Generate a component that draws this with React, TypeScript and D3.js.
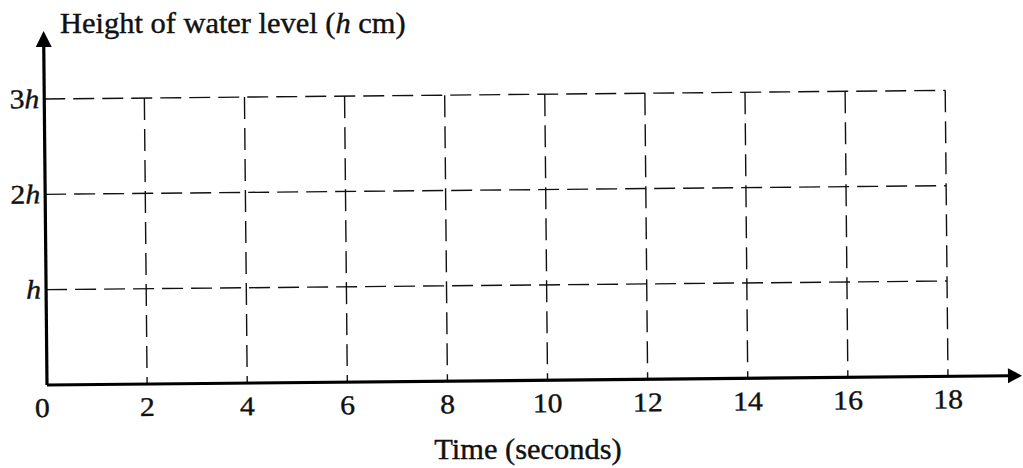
import React from "react";
import * as d3 from "d3";

// data
const xTicks = [2, 4, 6, 8, 10, 12, 14, 16, 18];
const xTickLabels = ["2", "4", "6", "8", "10", "12", "14", "16", "18"];
const yTicks = [1, 2, 3];
const yTickLabels = ["", "2", "3"]; // prefix before the italic h
const xMax = 18;
const yMax = 3;

const W = 1023;
const H = 468;
const origin = { x: 47, y: 385 };
const tilt = -0.55; // the scan is slightly rotated

const FONT = "'Liberation Serif', 'Times New Roman', serif";

export default function App() {
  const x = d3.scaleLinear().domain([0, xMax]).range([origin.x, 948]);
  const y = d3.scaleLinear().domain([0, yMax]).range([origin.y, 99]);

  const gridStyle = { stroke: "#111", strokeWidth: 1.4, fill: "none" };
  const textStyle = { fontFamily: FONT, fill: "#111", stroke: "#111", strokeWidth: 0.4 };

  return (
    <svg
      width={W}
      height={H}
      viewBox={`0 0 ${W} ${H}`}
      style={{ position: "absolute", left: 0, top: 0, background: "#fff" }}
    >
      <rect width={W} height={H} fill="#fff" />

      {/* axis titles */}
      <text transform="translate(60,33) scale(1.05,1)" fontSize={29} {...textStyle}>
        Height of water level (<tspan fontStyle="italic">h</tspan> cm)
      </text>
      <text
        transform="translate(528,459) scale(1.05,1)"
        fontSize={29}
        textAnchor="middle"
        {...textStyle}
      >
        Time (seconds)
      </text>

      <g transform={`rotate(${tilt},${origin.x},${origin.y})`}>
        {/* horizontal dashed grid */}
        {yTicks.map((t) => (
          <line
            key={`h${t}`}
            x1={x(0)}
            x2={x(xMax)}
            y1={y(t)}
            y2={y(t)}
            strokeDasharray="21 8"
            {...gridStyle}
          />
        ))}
        {/* vertical dashed grid */}
        {xTicks.map((t) => (
          <line
            key={`v${t}`}
            x1={x(t)}
            x2={x(t)}
            y1={y(yMax)}
            y2={y(0)}
            strokeDasharray="22 9"
            {...gridStyle}
          />
        ))}

        {/* axes */}
        <line x1={x(0)} x2={1010} y1={y(0)} y2={y(0)} stroke="#000" strokeWidth={3.2} />
        <line x1={x(0)} x2={x(0)} y1={y(0)} y2={45} stroke="#000" strokeWidth={3.2} />
        <path d={`M1022,${y(0)} L1008,${y(0) - 7.5} L1008,${y(0) + 7.5} Z`} fill="#000" />
        <path d={`M${x(0)},31 L${x(0) - 8},47 L${x(0) + 8},47 Z`} fill="#000" />

        {/* x tick labels */}
        {xTicks.map((t, i) => (
          <text
            key={`xl${t}`}
            transform={`translate(${x(t)},${y(0) + 32}) scale(1.1,1)`}
            fontSize={27}
            textAnchor="middle"
            {...textStyle}
          >
            {xTickLabels[i]}
          </text>
        ))}
        <text
          transform={`translate(${x(0) - 5},${y(0) + 32}) scale(1.1,1)`}
          fontSize={27}
          textAnchor="middle"
          {...textStyle}
        >
          0
        </text>

        {/* y tick labels */}
        {yTicks.map((t, i) => (
          <text
            key={`yl${t}`}
            transform={`translate(${x(0) - 5},${y(t) + 9}) scale(1.1,1)`}
            fontSize={27}
            textAnchor="end"
            {...textStyle}
          >
            {yTickLabels[i]}
            <tspan fontStyle="italic">h</tspan>
          </text>
        ))}
      </g>
    </svg>
  );
}
